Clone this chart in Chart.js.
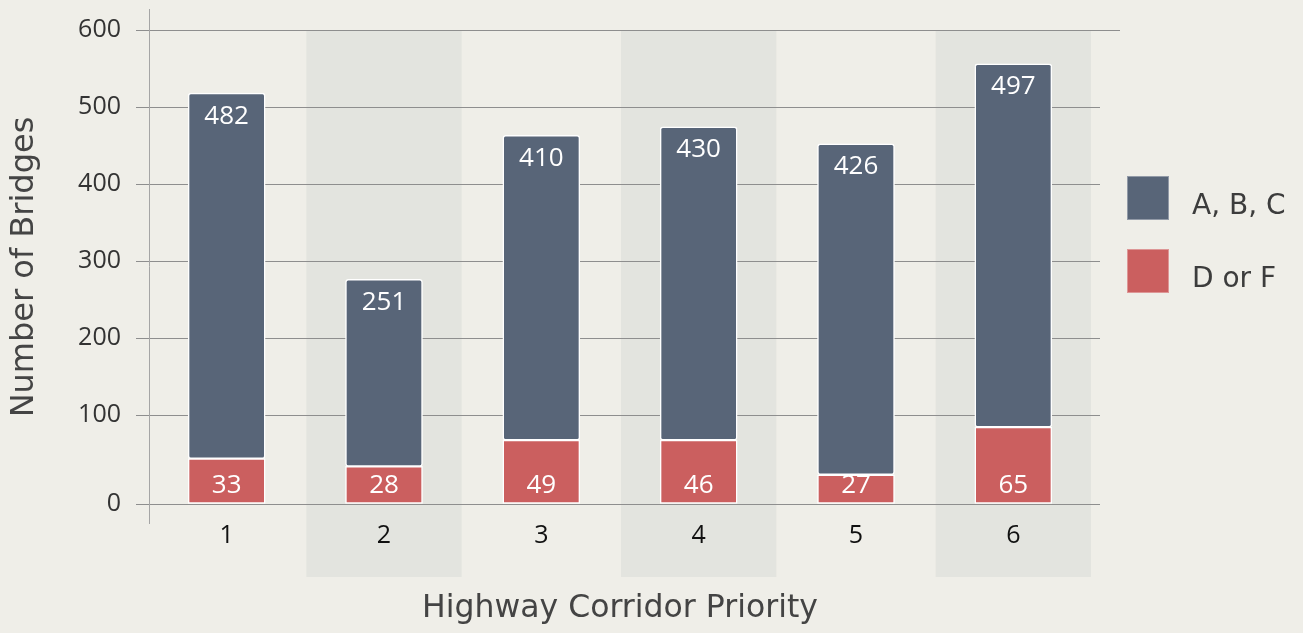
<!DOCTYPE html>
<html><head><meta charset="utf-8">
<script src="https://cdn.jsdelivr.net/npm/chart.js@4.4.1/dist/chart.umd.min.js"></script>
<style>html,body{margin:0;padding:0;background:#efeee8;overflow:hidden}#wrap{width:1303px;height:633px}</style>
</head><body><div id="wrap"><canvas id="c" width="1303" height="633"></canvas></div>
<script>
// ---- data ----
const categories = ['1', '2', '3', '4', '5', '6'];
const seriesNames = ['D or F', 'A, B, C'];
// printed counts
const dfCounts = [33, 28, 49, 46, 27, 65];
const abcCounts = [482, 251, 410, 430, 426, 497];
// segment lengths as drawn in the picture, read against the axis
const dfDrawn = [43, 33, 67, 67, 22, 84];
const abcDrawn = [475, 243, 396, 407, 430, 472];
const yTickValues = [0, 100, 200, 300, 400, 500, 600];
const shadedCategories = ['2', '4', '6'];
const xTitle = 'Highway Corridor Priority';
const yTitle = 'Number of Bridges';

const COLORS = { df: '#cb5f5f', abc: '#586578', bg: '#efeee8', band: '#e3e4df' };
const printed = [dfCounts, abcCounts];

const decor = {
  id: 'decor',
  beforeDraw(chart) {
    const { ctx, chartArea: ca, scales: { x, y } } = chart;
    ctx.save();
    ctx.fillStyle = COLORS.bg;
    ctx.fillRect(0, 0, chart.width, chart.height);
    const half = (x.getPixelForValue(1) - x.getPixelForValue(0)) / 2 - 1;
    ctx.fillStyle = COLORS.band;
    shadedCategories.forEach(c => {
      const cx = x.getPixelForValue(categories.indexOf(c));
      ctx.fillRect(cx - half, ca.top, half * 2, ca.bottom + 73 - ca.top);
    });
    ctx.strokeStyle = '#8e8e8e';
    ctx.lineWidth = 1;
    y.ticks.forEach((t, i) => {
      const py = Math.round(y.getPixelForValue(t.value)) + 0.5;
      const right = i === y.ticks.length - 1 ? ca.right + 28 : ca.right + 8;
      ctx.beginPath(); ctx.moveTo(ca.left - 12, py); ctx.lineTo(right, py); ctx.stroke();
    });
    ctx.strokeStyle = '#a5a5a5';
    ctx.beginPath(); ctx.moveTo(ca.left + 1.5, ca.top - 21); ctx.lineTo(ca.left + 1.5, ca.bottom + 20); ctx.stroke();
    ctx.restore();
  },
  afterDatasetsDraw(chart) {
    const { ctx } = chart;
    ctx.save();
    ctx.font = '26px "Open Sans"';
    ctx.fillStyle = '#ffffff';
    ctx.textAlign = 'center';
    ctx.textBaseline = 'middle';
    chart.data.datasets.forEach((ds, di) => {
      chart.getDatasetMeta(di).data.forEach((bar, i) => {
        const ty = di === 0 ? bar.base - 18 : bar.y + 23;
        ctx.fillText(String(printed[di][i]), bar.x, ty);
      });
    });
    ctx.restore();
  },
  afterDraw(chart) {
    const { ctx, chartArea: ca } = chart;
    ctx.save();
    const order = [1, 0];
    ctx.font = '28px "DejaVu Sans"';
    ctx.textBaseline = 'alphabetic';
    ctx.textAlign = 'left';
    order.forEach((di, k) => {
      const ds = chart.data.datasets[di];
      const top = 176 + k * 73;
      ctx.fillStyle = ds.backgroundColor;
      ctx.fillRect(ca.right + 35, top, 42, 44);
      ctx.strokeStyle = 'rgba(255,255,255,0.35)';
      ctx.strokeRect(ca.right + 35.5, top + 0.5, 41, 43);
      ctx.fillStyle = '#3c3c3c';
      ctx.fillText(ds.label, ca.right + 100, top + 38);
    });
    ctx.restore();
  }
};

new Chart(document.getElementById('c'), {
  type: 'bar',
  data: {
    labels: categories,
    datasets: [
      { label: seriesNames[0], data: dfDrawn, backgroundColor: COLORS.df, base: -16 },
      { label: seriesNames[1], data: abcDrawn, backgroundColor: COLORS.abc }
    ]
  },
  options: {
    responsive: false,
    animation: false,
    events: [],
    layout: { padding: { top: 30, right: 211, bottom: 0, left: 0 } },
    datasets: { bar: { barThickness: 77, borderColor: '#ffffff', borderWidth: 1.5, borderRadius: 3, borderSkipped: false } },
    plugins: { legend: { display: false }, tooltip: { enabled: false } },
    scales: {
      x: {
        stacked: true,
        grid: { display: false, drawTicks: false },
        border: { display: false },
        ticks: { color: '#111111', font: { family: 'Open Sans', size: 25 }, padding: 17 },
        title: { display: true, text: xTitle, color: '#444444', font: { family: 'DejaVu Sans', size: 31.5 }, padding: { top: 0, bottom: 5 } },
        afterFit: s => { s.height = 129; }
      },
      y: {
        stacked: true,
        min: -16,
        max: 600,
        grid: { display: true, color: 'rgba(0,0,0,0)', drawOnChartArea: false, drawTicks: true, tickLength: 27 },
        border: { display: false },
        afterBuildTicks: s => { s.ticks = yTickValues.map(v => ({ value: v === 0 ? s.min : v })); },
        ticks: { color: '#333333', font: { family: 'Open Sans', size: 25 }, padding: 0, autoSkip: false,
                 callback: (v, i) => String(yTickValues[i]) },
        title: { display: true, text: yTitle, color: '#444444', font: { family: 'DejaVu Sans', size: 32 }, padding: { top: 5, bottom: 0 } },
        afterFit: s => { s.width = 148; }
      }
    }
  },
  plugins: [decor]
});
</script>
</body></html>
